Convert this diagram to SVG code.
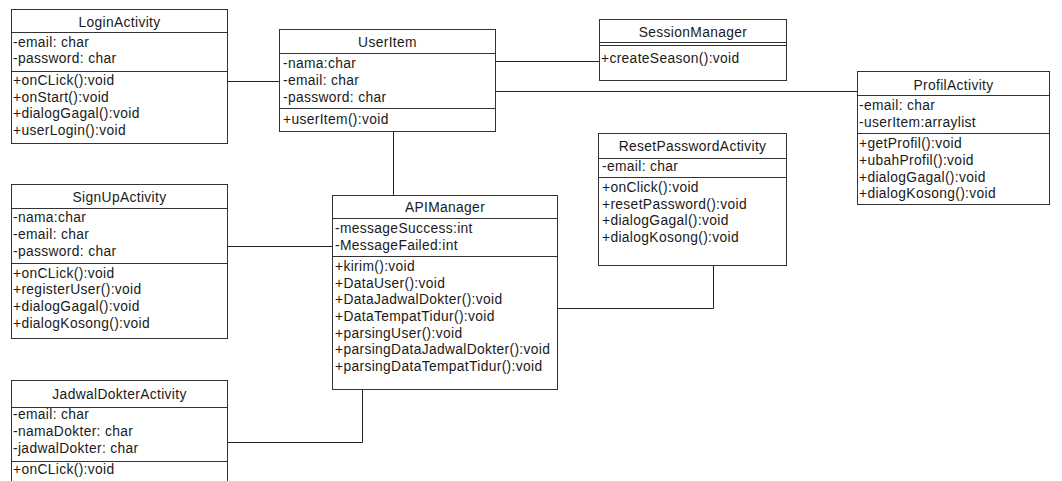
<svg xmlns="http://www.w3.org/2000/svg" width="1062" height="481" viewBox="0 0 1062 481">
<style>
.box{fill:#fff;stroke:#333;stroke-width:1}
.div{stroke:#333;stroke-width:1}
.con{fill:none;stroke:#222;stroke-width:1}
text{font-family:"Liberation Sans",Arial,sans-serif;font-size:13.8px;letter-spacing:0.35px;fill:#1a1a1a}
.t{text-anchor:middle}
</style>
<rect width="1062" height="481" fill="#fff"/>
<g id="connectors">
<path class="con" d="M227.5,81.5H279.5"/>
<path class="con" d="M495.5,61.5H599.5"/>
<path class="con" d="M495.5,91.5H857.5"/>
<path class="con" d="M393.5,131.5V195.5"/>
<path class="con" d="M227.5,246.5H332.5"/>
<path class="con" d="M557.5,308.5H713.5V265.5"/>
<path class="con" d="M362.5,389.5V442.5H227.5"/>
</g>
<g id="LoginActivity">
<rect class="box" x="11.5" y="9.5" width="216" height="134"/>
<path class="div" d="M11.5,32.5H227.5M11.5,71.5H227.5"/>
<text class="t" x="119.5" y="27">LoginActivity</text>
<text x="13" y="47">-email: char</text>
<text x="13" y="63">-password: char</text>
<text x="13" y="85">+onCLick():void</text>
<text x="13" y="102">+onStart():void</text>
<text x="13" y="118">+dialogGagal():void</text>
<text x="13" y="135">+userLogin():void</text>
</g>
<g id="UserItem">
<rect class="box" x="279.5" y="29.5" width="216" height="102"/>
<path class="div" d="M279.5,53.5H495.5M279.5,108.5H495.5"/>
<text class="t" x="387.5" y="47">UserItem</text>
<text x="283" y="68">-nama:char</text>
<text x="283" y="85">-email: char</text>
<text x="283" y="102">-password: char</text>
<text x="283" y="124">+userItem():void</text>
</g>
<g id="SessionManager">
<rect class="box" x="599.5" y="19.5" width="187" height="61"/>
<path class="div" d="M599.5,42.5H786.5M599.5,45.5H786.5"/>
<text class="t" x="693" y="37">SessionManager</text>
<text x="601" y="63">+createSeason():void</text>
</g>
<g id="ProfilActivity">
<rect class="box" x="857.5" y="71.5" width="192" height="133"/>
<path class="div" d="M857.5,95.5H1049.5M857.5,133.5H1049.5"/>
<text class="t" x="953.5" y="90">ProfilActivity</text>
<text x="859" y="110">-email: char</text>
<text x="859" y="127">-userItem:arraylist</text>
<text x="859" y="148">+getProfil():void</text>
<text x="859" y="165">+ubahProfil():void</text>
<text x="859" y="182">+dialogGagal():void</text>
<text x="859" y="198">+dialogKosong():void</text>
</g>
<g id="ResetPasswordActivity">
<rect class="box" x="598.5" y="133.5" width="188" height="132"/>
<path class="div" d="M598.5,158.5H786.5M598.5,177.5H786.5"/>
<text class="t" x="692.5" y="151">ResetPasswordActivity</text>
<text x="602" y="171">-email: char</text>
<text x="602" y="192">+onClick():void</text>
<text x="602" y="209">+resetPassword():void</text>
<text x="602" y="225">+dialogGagal():void</text>
<text x="602" y="242">+dialogKosong():void</text>
</g>
<g id="SignUpActivity">
<rect class="box" x="11.5" y="184.5" width="216" height="154"/>
<path class="div" d="M11.5,208.5H227.5M11.5,263.5H227.5"/>
<text class="t" x="119.5" y="202">SignUpActivity</text>
<text x="13" y="222">-nama:char</text>
<text x="13" y="239">-email: char</text>
<text x="13" y="256">-password: char</text>
<text x="13" y="278">+onCLick():void</text>
<text x="13" y="294">+registerUser():void</text>
<text x="13" y="311">+dialogGagal():void</text>
<text x="13" y="328">+dialogKosong():void</text>
</g>
<g id="APIManager">
<rect class="box" x="332.5" y="195.5" width="225" height="194"/>
<path class="div" d="M332.5,218.5H557.5M332.5,256.5H557.5"/>
<text class="t" x="445" y="212">APIManager</text>
<text x="335" y="233">-messageSuccess:int</text>
<text x="335" y="250">-MessageFailed:int</text>
<text x="335" y="271">+kirim():void</text>
<text x="335" y="288">+DataUser():void</text>
<text x="335" y="304">+DataJadwalDokter():void</text>
<text x="335" y="321">+DataTempatTidur():void</text>
<text x="335" y="338">+parsingUser():void</text>
<text x="335" y="354">+parsingDataJadwalDokter():void</text>
<text x="335" y="371">+parsingDataTempatTidur():void</text>
</g>
<g id="JadwalDokterActivity">
<rect class="box" x="11.5" y="380.5" width="216" height="120"/>
<path class="div" d="M11.5,407.5H227.5M11.5,461.5H227.5"/>
<text class="t" x="119.5" y="399">JadwalDokterActivity</text>
<text x="13" y="419">-email: char</text>
<text x="13" y="436">-namaDokter: char</text>
<text x="13" y="453">-jadwalDokter: char</text>
<text x="13" y="474">+onCLick():void</text>
</g>
</svg>
